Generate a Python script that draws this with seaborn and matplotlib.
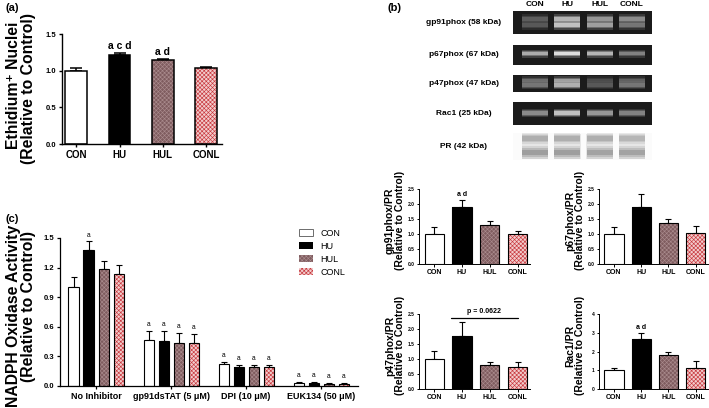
import numpy as np
import matplotlib.pyplot as plt
import matplotlib.transforms as mtransforms
import pandas as pd
import seaborn as sns
from matplotlib.patches import Patch, Rectangle

W, H = 709, 408

groups = ['CON', 'HU', 'HUL', 'CONL']

# (a) ethidium+ nuclei
eth_mean = [1.00, 1.22, 1.14, 1.04]
eth_err = [0.03, 0.02, 0.02, 0.01]
eth_sig = ['', 'a c d', 'a d', '']

# (c) NADPH oxidase activity
conditions = ['No Inhibitor', 'gp91dsTAT (5 μM)', 'DPI (10 μM)', 'EUK134 (50 μM)']
nox_con = [1.00, 0.47, 0.225, 0.03]
nox_hu = [1.38, 0.455, 0.195, 0.03]
nox_hul = [1.19, 0.44, 0.195, 0.025]
nox_conl = [1.14, 0.435, 0.195, 0.025]
nox_con_err = [0.10, 0.085, 0.02, 0.007]
nox_hu_err = [0.085, 0.10, 0.02, 0.007]
nox_hul_err = [0.08, 0.10, 0.015, 0.007]
nox_conl_err = [0.085, 0.09, 0.015, 0.007]
nox_sig = [['', 'a', '', ''], ['a'] * 4, ['a'] * 4, ['a'] * 4]

# (b) densitometry
gp91_mean = [1.00, 1.90, 1.29, 1.00]
gp91_err = [0.22, 0.22, 0.15, 0.09]
p67_mean = [1.00, 1.90, 1.37, 1.04]
p67_err = [0.24, 0.43, 0.13, 0.24]
p47_mean = [1.00, 1.78, 0.80, 0.72]
p47_err = [0.27, 0.44, 0.10, 0.18]
rac1_mean = [1.01, 2.67, 1.82, 1.12]
rac1_err = [0.13, 0.30, 0.13, 0.36]

# (b) blot band intensities per lane (0 = faint, 1 = strong)
gp91_upper = [0.30, 0.72, 0.58, 0.52]
gp91_lower = [0.28, 0.78, 0.62, 0.42]
p67_band = [0.68, 0.92, 0.72, 0.48]
p47_upper = [0.38, 0.62, 0.22, 0.32]
p47_lower = [0.42, 0.70, 0.28, 0.42]
rac1_band = [0.52, 0.78, 0.58, 0.48]
pr_upper = [0.50, 0.50, 0.50, 0.42]
pr_lower = [0.65, 0.65, 0.60, 0.60]

bar_style = {
    'CON': ('white', 'white', None),
    'HU': ('black', 'black', None),
    'HUL': ('#7f5c5f', '#a98a8c', 'xxxxxxxx'),
    'CONL': ('#f2cccc', '#c8383e', 'xxxxxxxx'),
}

sns.set_theme(style='ticks')
plt.rcParams['font.family'] = ['Liberation Sans', 'DejaVu Sans']
plt.rcParams['hatch.linewidth'] = 0.45
plt.rcParams['axes.edgecolor'] = 'black'
plt.rcParams['xtick.color'] = 'black'
plt.rcParams['ytick.color'] = 'black'
plt.rcParams['text.color'] = 'black'

fig = plt.figure(figsize=(W / 100, H / 100), dpi=100)


def box(l, t, r, b):
    return [l / W, 1 - b / H, (r - l) / W, (b - t) / H]


def ftext(x, y, s, **kw):
    fig.text(x / W, 1 - y / H, s, ha='center', va='center', **kw)


def style_bars(ax, means, errs, lw, capsize):
    bars = sorted(ax.patches, key=lambda p: p.get_x())
    for k, p in enumerate(bars):
        fc, hc, hatch = bar_style[groups[k % 4]]
        p.set_facecolor(fc)
        p.set_edgecolor(hc)
        p.set_hatch(hatch)
        p.set_linewidth(0)
        ax.add_patch(Rectangle(p.get_xy(), p.get_width(), p.get_height(), fill=False,
                               ec='black', lw=lw, zorder=p.get_zorder() + 0.1))
    xs = [p.get_x() + p.get_width() / 2 for p in bars]
    ax.errorbar(xs, means, yerr=[np.zeros(len(means)), errs], fmt='none', ecolor='black',
                elinewidth=lw, capsize=capsize, capthick=lw, zorder=0.9)
    return xs


def axis_style(ax, lw, xsize, ysize, ticklen):
    sns.despine(ax=ax)
    for s in ['left', 'bottom']:
        ax.spines[s].set_linewidth(lw)
    ax.tick_params(axis='both', length=ticklen, width=lw, pad=1.5)
    ax.tick_params(axis='x', labelsize=xsize, pad=2)
    ax.tick_params(axis='y', labelsize=ysize)
    for t in ax.get_xticklabels() + ax.get_yticklabels():
        t.set_fontweight('bold')
    ax.set_xlabel('')
    ax.set_ylabel('')
    ax.set_facecolor('white')


# ---------- (a) ----------
ax_a = fig.add_axes(box(62, 34, 222, 144))
sns.barplot(x=groups, y=eth_mean, hue=groups, palette=['white'] * 4, legend=False,
            width=0.5, ax=ax_a)
xs = style_bars(ax_a, eth_mean, eth_err, 1.1, 4)
ax_a.set_xlim(-0.33, 3.37)
ax_a.set_ylim(0, 1.5)
ax_a.set_yticks([0, 0.5, 1.0, 1.5])
ax_a.set_yticklabels(['0.0', '0.5', '1.0', '1.5'])
axis_style(ax_a, 1.0, 7, 5.5, 2.5)
for x, m, e, s in zip(xs, eth_mean, eth_err, eth_sig):
    if s:
        ax_a.text(x, m + e + 0.09, s, ha='center', va='center', fontsize=7.5, fontweight='bold')
ftext(12, 8, '(a)', fontsize=8, fontweight='bold')
ftext(14, 85, 'Ethidium⁺ Nuclei', rotation=90, fontsize=11.3, fontweight='bold')
ftext(29, 88, '(Relative to Control)', rotation=90, fontsize=11.3, fontweight='bold')

# ---------- (c) ----------
nox_df = pd.DataFrame({
    'condition': conditions * 4,
    'group': np.repeat(groups, 4),
    'value': nox_con + nox_hu + nox_hul + nox_conl,
})
ax_c = fig.add_axes(box(60, 238, 358, 386))
sns.barplot(data=nox_df, x='condition', y='value', hue='group', order=conditions,
            hue_order=groups, palette=['white'] * 4, width=0.8, gap=0.33, legend=False, ax=ax_c)
nox_means = [v for i in range(4) for v in (nox_con[i], nox_hu[i], nox_hul[i], nox_conl[i])]
nox_errs = [v for i in range(4) for v in (nox_con_err[i], nox_hu_err[i], nox_hul_err[i], nox_conl_err[i])]
xs = style_bars(ax_c, nox_means, nox_errs, 0.8, 2.5)
ax_c.set_xlim(-0.48, 3.49)
ax_c.set_ylim(0, 1.5)
ax_c.set_yticks(np.arange(0, 1.51, 0.3))
ax_c.set_yticklabels(['0.0', '0.3', '0.6', '0.9', '1.2', '1.5'])
axis_style(ax_c, 0.9, 6.5, 5.5, 2.5)
flat_sig = [s for row in nox_sig for s in row]
for x, m, e, s in zip(xs, nox_means, nox_errs, flat_sig):
    if s:
        ax_c.text(x, m + e + 0.065, s, ha='center', va='center', fontsize=4.8, clip_on=False)
handles = []
for g in groups:
    fc, hc, hatch = bar_style[g]
    handles.append(Patch(facecolor=fc, edgecolor='#555555' if g == 'CON' else hc,
                         hatch=hatch, lw=0.6 if g == 'CON' else 0))
fig.legend(handles, groups, loc='upper left', bbox_to_anchor=(294 / W, 1 - 224 / H),
           frameon=False, fontsize=6.5, handlelength=1.6, handleheight=0.9,
           labelspacing=0.45, handletextpad=0.8, borderpad=0)
ftext(12, 219, '(c)', fontsize=8, fontweight='bold')
ftext(14, 316, 'NADPH Oxidase Activity', rotation=90, fontsize=11.3, fontweight='bold')
ftext(29, 307, '(Relative to Control)', rotation=90, fontsize=11.3, fontweight='bold')

# ---------- (b) blots ----------
ftext(395, 8, '(b)', fontsize=8, fontweight='bold')
lanes = np.arange(4)
blot_rows = [
    ('gp91phox (58 kDa)', (11, 34), [(gp91_upper, 0.65, 0.17), (gp91_lower, 0.38, 0.17)], True),
    ('p67phox (67 kDa)', (45, 65), [(p67_band, 0.57, 0.17)], True),
    ('p47phox (47 kDa)', (75, 92), [(p47_upper, 0.68, 0.2), (p47_lower, 0.40, 0.2)], True),
    ('Rac1 (25 kDa)', (102, 125), [(rac1_band, 0.52, 0.15)], True),
    ('PR (42 kDa)', (133, 160), [(pr_upper, 0.80, 0.17), (pr_lower, 0.28, 0.2)], False),
]
for k, (label, (top, bottom), bands, dark) in enumerate(blot_rows):
    ax = fig.add_axes(box(513, top, 652, bottom))
    ax.set_xlim(-0.68, 3.62)
    ax.set_ylim(0, 1)
    ax.set_xticks([])
    ax.set_yticks([])
    for s in ax.spines.values():
        s.set_visible(False)
    if dark:
        ax.set_facecolor('#1b1b1b')
    else:
        ax.set_facecolor('#fbfbfb')
        ax.bar(lanes, 0.9, bottom=0.05, width=0.82, color='#e6e6e6', lw=0)
    for vals, yc, h in bands:
        for scale, alpha in [(2.4, 0.25), (1.6, 0.45), (1.0, 0.9)]:
            if dark:
                cols = [(0.12 + 0.85 * v,) * 3 for v in vals]
            else:
                cols = [(0.9 - 0.45 * v,) * 3 for v in vals]
            ax.bar(lanes, h * scale, bottom=yc - h * scale / 2, width=0.8, color=cols,
                   alpha=alpha, lw=0)
    ftext(464, (top + bottom) / 2, label, fontsize=6, fontweight='bold')
    if k == 0:
        trans = mtransforms.blended_transform_factory(ax.transData, ax.transAxes)
        for i, g in enumerate(groups):
            ax.text(i, 1.3, g, transform=trans, ha='center', va='center',
                    fontsize=6, fontweight='bold', clip_on=False)

# ---------- (b) densitometry ----------
small = [
    ('gp91phox/PR', (419, 189, 530, 264), gp91_mean, gp91_err, ['', 'a d', '', ''], 2.5),
    ('p67phox/PR', (599, 189, 708, 264), p67_mean, p67_err, ['', '', '', ''], 2.5),
    ('p47phox/PR', (419, 314, 530, 389), p47_mean, p47_err, ['', '', '', ''], 2.5),
    ('Rac1/PR', (599, 314, 708, 389), rac1_mean, rac1_err, ['', 'a d', '', ''], 4),
]
for name, (l, t, r, b), means, errs, sig, ymax in small:
    ax = fig.add_axes(box(l, t, r, b))
    sns.barplot(x=groups, y=means, hue=groups, palette=['white'] * 4, legend=False,
                width=0.7, ax=ax)
    xs = style_bars(ax, means, errs, 0.8, 2.5)
    ax.set_xlim(-0.55, 3.45)
    ax.set_ylim(0, ymax)
    if ymax == 4:
        ax.set_yticks([0, 1, 2, 3, 4])
        ax.set_yticklabels(['0', '1', '2', '3', '4'])
    else:
        ax.set_yticks([0, 0.5, 1.0, 1.5, 2.0, 2.5])
        ax.set_yticklabels(['0.0', '0.5', '1.0', '1.5', '2.0', '2.5'])
    axis_style(ax, 0.7, 5, 3.5, 1.8)
    for x, m, e, s in zip(xs, means, errs, sig):
        if s:
            ax.text(x, m + e + 0.08 * ymax, s, ha='center', va='center', fontsize=5,
                    fontweight='bold')
    if name == 'p47phox/PR':
        ax.plot([0.6, 3.0], [2.37, 2.37], color='black', lw=0.9, clip_on=False)
        ax.text(1.8, 2.57, 'p = 0.0622', ha='center', va='center', fontsize=5,
                fontweight='bold', clip_on=False)
    ftext(l - 29, (t + b) / 2 - 6, name, rotation=90, fontsize=7.5, fontweight='bold')
    ftext(l - 19, (t + b) / 2 - 6, '(Relative to Control)', rotation=90, fontsize=7.5,
          fontweight='bold')

fig.savefig('out.png', dpi=100)
